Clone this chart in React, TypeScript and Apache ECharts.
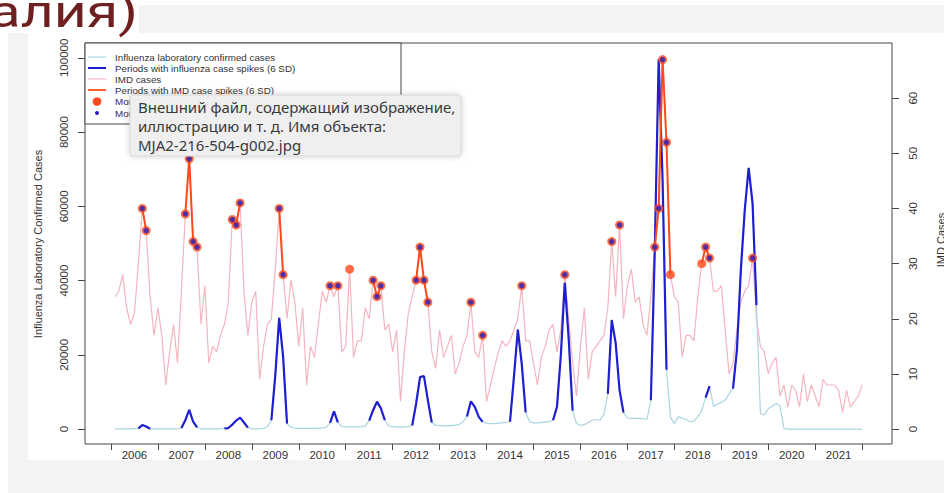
import React, { useEffect, useRef } from "react";
import * as echarts from "echarts";

// Year labels, one per 12-month block on the x axis
const years = [
  "2006", "2007", "2008", "2009", "2010", "2011", "2012", "2013",
  "2014", "2015", "2016", "2017", "2018", "2019", "2020", "2021",
];

// Monthly influenza laboratory confirmed cases, Jan 2006 – Dec 2021
const fluCases = [
  100, 100, 100, 100, 100, 150, 200, 1100, 700, 100, 100, 100,
  100, 100, 100, 100, 100, 300, 2400, 5200, 2000, 500, 100, 100,
  100, 100, 100, 100, 200, 300, 1200, 2300, 3100, 1800, 400, 100,
  100, 100, 200, 700, 2400, 14500, 30000, 19500, 1500, 500, 300, 200,
  200, 200, 200, 200, 300, 300, 500, 1700, 4800, 1800, 700, 600,
  600, 600, 600, 700, 900, 2300, 5100, 7400, 5600, 2400, 900, 700,
  600, 500, 600, 700, 1000, 6900, 14000, 14300, 7800, 1800, 1000, 1000,
  900, 900, 1000, 1000, 1300, 2000, 3400, 7500, 6000, 3300, 2000, 1600,
  1500, 1500, 1600, 1700, 1800, 2000, 14100, 26800, 17600, 4500, 2000, 1700,
  1700, 1800, 1900, 2000, 2400, 6000, 20000, 39400, 24300, 5000, 1500, 1000,
  1200, 1800, 2400, 2600, 2400, 4000, 9500, 29400, 23200, 10500, 4500, 3000,
  2900, 2900, 2900, 2800, 2600, 7800, 48000, 99600, 67000, 16000, 3300, 1500,
  3300, 3000, 2600, 2000, 2200, 3300, 5000, 8500, 11600, 6200, 6700, 7200,
  7900, 9500, 10900, 21300, 42800, 59000, 70400, 60800, 33400, 4200, 3800, 5500,
  6200, 6900, 6300, 200, 0, 0, 0, 0, 0, 0, 0, 0,
  0, 0, 0, 0, 0, 0, 0, 0, 0, 0, 0, 0,
];

// Monthly IMD cases, Jan 2006 – Dec 2021
const imdCases = [
  24, 25, 28, 22, 19, 21, 30, 40, 36, 24, 17, 22,
  17, 8, 14, 19, 12, 25, 39, 49, 34, 33, 19, 26,
  12, 15, 14, 17, 19, 23, 38, 37, 41, 25, 17, 23,
  25, 9, 15, 19, 20, 29, 40, 28, 20, 27, 23, 15,
  22, 8, 15, 13, 19, 25, 23, 26, 24, 26, 14, 15,
  29, 13, 16, 16, 22, 20, 27, 24, 26, 18, 19, 14,
  18, 5, 14, 21, 24, 27, 33, 27, 23, 14, 11, 18,
  13, 15, 17, 10, 12, 15, 17, 23, 14, 13, 17, 5,
  8, 11, 14, 16, 15, 16, 18, 20, 26, 16, 16, 12,
  8, 13, 15, 18, 19, 14, 18, 28, 20, 12, 6, 15,
  22, 9, 14, 15, 16, 17, 22, 34, 24, 37, 20, 26,
  29, 23, 24, 19, 17, 24, 33, 40, 67, 52, 28, 24,
  23, 13, 17, 17, 16, 24, 30, 33, 31, 25, 25, 26,
  18, 10, 12, 18, 23, 25, 26, 31, 20, 15, 14, 10,
  12, 13, 6, 8, 4, 8, 7, 4, 10, 5, 8, 6,
  4, 9, 8, 8, 8, 7, 3, 7, 4, 5, 6, 8,
];

// Month numbers (1 = Jan 2006) flagged as case spikes (6 SD)
const fluSpikeMonths = [
  7, 8, 9, 10, 18, 19, 20, 21, 22, 29, 30, 31, 32, 33, 34, 35,
  41, 42, 43, 44, 45, 56, 57, 58, 66, 67, 68, 69, 70,
  77, 78, 79, 80, 81, 82, 91, 92, 93, 94, 95,
  102, 103, 104, 105, 106, 113, 114, 115, 116, 117, 118,
  127, 128, 129, 130, 131, 138, 139, 140, 141, 142,
  152, 153, 159, 160, 161, 162, 163, 164, 165,
];
const imdSpikeMonths = [
  8, 9, 19, 20, 21, 22, 31, 32, 33, 43, 44, 56, 58, 61, 67, 68, 69,
  78, 79, 80, 81, 92, 95, 105, 116, 128, 130,
  139, 140, 141, 142, 143, 151, 152, 153, 164,
];

const fluTicks = [0, 20000, 40000, 60000, 80000, 100000];
const imdTicks = [0, 10, 20, 30, 40, 50, 60];

const legendLabels = [
  "Influenza laboratory confirmed cases",
  "Periods with influenza case spikes (6 SD)",
  "IMD cases",
  "Periods with IMD case spikes (6 SD)",
  "Months with IMD case spikes",
  "Months with IMD spikes during influenza spikes",
];

const tipLines = [
  "Внешний файл, содержащий изображение,",
  "иллюстрацию и т. д. Имя объекта:",
  "MJA2-216-504-g002.jpg",
];

const heading = "алия)";

const C = {
  flu: "#aad5e2",
  fluSpike: "#1f1fd2",
  imd: "#f4b5c0",
  imdSpike: "#ff4a1c",
  dot: "#2a1fb8",
  frame: "#474747",
  text: "#333333",
};

const monthIdx = fluCases.map((_, k) => k + 1);
const tickMonths = years.map((_, k) => k * 12).concat([years.length * 12]);
const labelMonths = years.map((_, k) => k * 12 + 6);

function App() {
  const ref = useRef<HTMLDivElement>(null);

  useEffect(() => {
    if (!ref.current) return;
    const chart = echarts.init(ref.current, undefined, { renderer: "svg" });

    const fluSet = new Set(fluSpikeMonths);
    const imdSet = new Set(imdSpikeMonths);
    const fluLine = monthIdx.map((m, k) => [m, fluCases[k]]);
    const imdLine = monthIdx.map((m, k) => [m, imdCases[k]]);
    const fluSpikeLine = monthIdx.map((m, k) => [m, fluSet.has(m) ? fluCases[k] : "-"]);
    const imdSpikeLine = monthIdx.map((m, k) => [m, imdSet.has(m) ? imdCases[k] : "-"]);
    const imdDots = imdSpikeMonths.map((m) => [m, imdCases[m - 1]]);
    const bothDots = imdSpikeMonths.filter((m) => fluSet.has(m)).map((m) => [m, imdCases[m - 1]]);

    const font = "Liberation Sans, Arial, sans-serif";
    const lx0 = 88;
    const lx1 = 106;
    const rowY = [57, 68, 79, 90, 101.5, 113];
    const legendGraphics: any[] = [
      {
        type: "rect",
        z: 10,
        shape: { x: 85, y: 43, width: 316, height: 81 },
        style: { fill: "#ffffff", stroke: C.frame, lineWidth: 1 },
      },
    ];
    const lineCols = [C.flu, C.fluSpike, C.imd, C.imdSpike];
    const lineWidths = [1.2, 2, 1.2, 1.8];
    lineCols.forEach((col, k) => {
      legendGraphics.push({
        type: "line",
        z: 11,
        shape: { x1: lx0, y1: rowY[k], x2: lx1, y2: rowY[k] },
        style: { stroke: col, lineWidth: lineWidths[k] },
      });
    });
    legendGraphics.push({
      type: "circle",
      z: 11,
      shape: { cx: 97, cy: rowY[4], r: 4.3 },
      style: { fill: C.imdSpike },
    });
    legendGraphics.push({
      type: "circle",
      z: 11,
      shape: { cx: 97, cy: rowY[5], r: 2 },
      style: { fill: C.dot },
    });
    legendLabels.forEach((t, k) => {
      legendGraphics.push({
        type: "text",
        z: 11,
        x: 115,
        y: rowY[k],
        style: { text: t, fill: C.text, font: `9.8px ${font}`, verticalAlign: "middle" },
      });
    });

    const option: any = {
      animation: false,
      grid: {
        left: 85,
        top: 43,
        width: 807,
        height: 401,
        show: true,
        backgroundColor: "#ffffff",
        borderColor: C.frame,
        borderWidth: 1,
      },
      xAxis: {
        type: "value",
        min: -6.64,
        max: 199.64,
        axisLine: { show: false, onZero: false },
        splitLine: { show: false },
        axisTick: {
          show: true,
          customValues: tickMonths,
          length: 6,
          lineStyle: { color: C.frame },
        },
        axisLabel: {
          customValues: labelMonths,
          formatter: (v: number) => years[Math.round((v - 6) / 12)] ?? "",
          margin: 5,
          fontSize: 11.5,
          color: C.text,
          fontFamily: font,
        },
      },
      yAxis: [
        {
          type: "value",
          position: "left",
          min: -4000,
          max: 104000,
          axisLine: { show: false, onZero: false },
          splitLine: { show: false },
          axisTick: { show: true, customValues: fluTicks, length: 7, lineStyle: { color: C.frame } },
          axisLabel: {
            customValues: fluTicks,
            formatter: (v: number) => String(v),
            rotate: 90,
            margin: 15,
            fontSize: 11.5,
            color: C.text,
            fontFamily: font,
          },
        },
        {
          type: "value",
          position: "right",
          min: -2.7,
          max: 70,
          axisLine: { show: false, onZero: false },
          splitLine: { show: false },
          axisTick: { show: true, customValues: imdTicks, length: 7, lineStyle: { color: C.frame } },
          axisLabel: {
            customValues: imdTicks,
            formatter: (v: number) => String(v),
            rotate: 90,
            margin: 15,
            fontSize: 11.5,
            color: C.text,
            fontFamily: font,
          },
        },
      ],
      series: [
        {
          type: "line",
          yAxisIndex: 1,
          data: imdLine,
          symbol: "none",
          lineStyle: { color: C.imd, width: 1.2 },
          z: 2,
        },
        {
          type: "line",
          yAxisIndex: 0,
          data: fluLine,
          symbol: "none",
          lineStyle: { color: C.flu, width: 1.2 },
          z: 3,
        },
        {
          type: "line",
          yAxisIndex: 0,
          data: fluSpikeLine,
          symbol: "none",
          connectNulls: false,
          lineStyle: { color: C.fluSpike, width: 2.2 },
          z: 4,
        },
        {
          type: "line",
          yAxisIndex: 1,
          data: imdSpikeLine,
          symbol: "none",
          connectNulls: false,
          lineStyle: { color: C.imdSpike, width: 2 },
          z: 5,
        },
        {
          type: "scatter",
          yAxisIndex: 1,
          data: imdDots,
          symbolSize: 9,
          itemStyle: { color: C.imdSpike },
          z: 6,
        },
        {
          type: "scatter",
          yAxisIndex: 1,
          data: bothDots,
          symbolSize: 5.5,
          itemStyle: { color: C.dot },
          z: 7,
        },
      ],
      graphic: [
        {
          type: "rect",
          z: -20,
          silent: true,
          shape: { x: 8, y: 5, width: 936, height: 488 },
          style: { fill: "#f3f3f3" },
        },
        {
          type: "rect",
          z: -19,
          silent: true,
          shape: { x: 0, y: 0, width: 139, height: 33 },
          style: { fill: "#ffffff" },
        },
        {
          type: "rect",
          z: -19,
          silent: true,
          shape: { x: 28, y: 33, width: 916, height: 427 },
          style: { fill: "#ffffff" },
        },
        {
          type: "text",
          z: 30,
          x: 138,
          y: 12,
          scaleX: 1.3,
          style: {
            text: heading,
            fill: "#6e1f20",
            font: "400 44px Roboto",
            align: "right",
            verticalAlign: "middle",
          },
        },
        {
          type: "text",
          x: 38,
          y: 244,
          rotation: Math.PI / 2,
          style: {
            text: "Influenza Laboratory Confirmed Cases",
            fill: C.text,
            font: `11px ${font}`,
            align: "center",
            verticalAlign: "middle",
          },
        },
        {
          type: "text",
          x: 941,
          y: 240,
          rotation: Math.PI / 2,
          style: {
            text: "IMD Cases",
            fill: C.text,
            font: `11px ${font}`,
            align: "center",
            verticalAlign: "middle",
          },
        },
        ...legendGraphics,
        {
          type: "rect",
          z: 40,
          shape: { x: 130, y: 95, width: 331, height: 61, r: 3 },
          style: {
            fill: "#efefef",
            stroke: "#d6d6d6",
            lineWidth: 1,
            shadowBlur: 6,
            shadowColor: "rgba(0,0,0,0.18)",
          },
        },
        ...tipLines.map((t, k) => ({
          type: "text",
          z: 41,
          x: 138,
          y: 107 + k * 19,
          style: {
            text: t,
            fill: "#3a3a3a",
            font: '15px "Noto Sans", sans-serif',
            verticalAlign: "middle",
          },
        })),
      ],
    };

    chart.setOption(option);
    return () => chart.dispose();
  }, []);

  return (
    <div
      ref={ref}
      style={{ position: "fixed", left: 0, top: 0, width: 944, height: 493, background: "#ffffff" }}
    />
  );
}

export default App;
